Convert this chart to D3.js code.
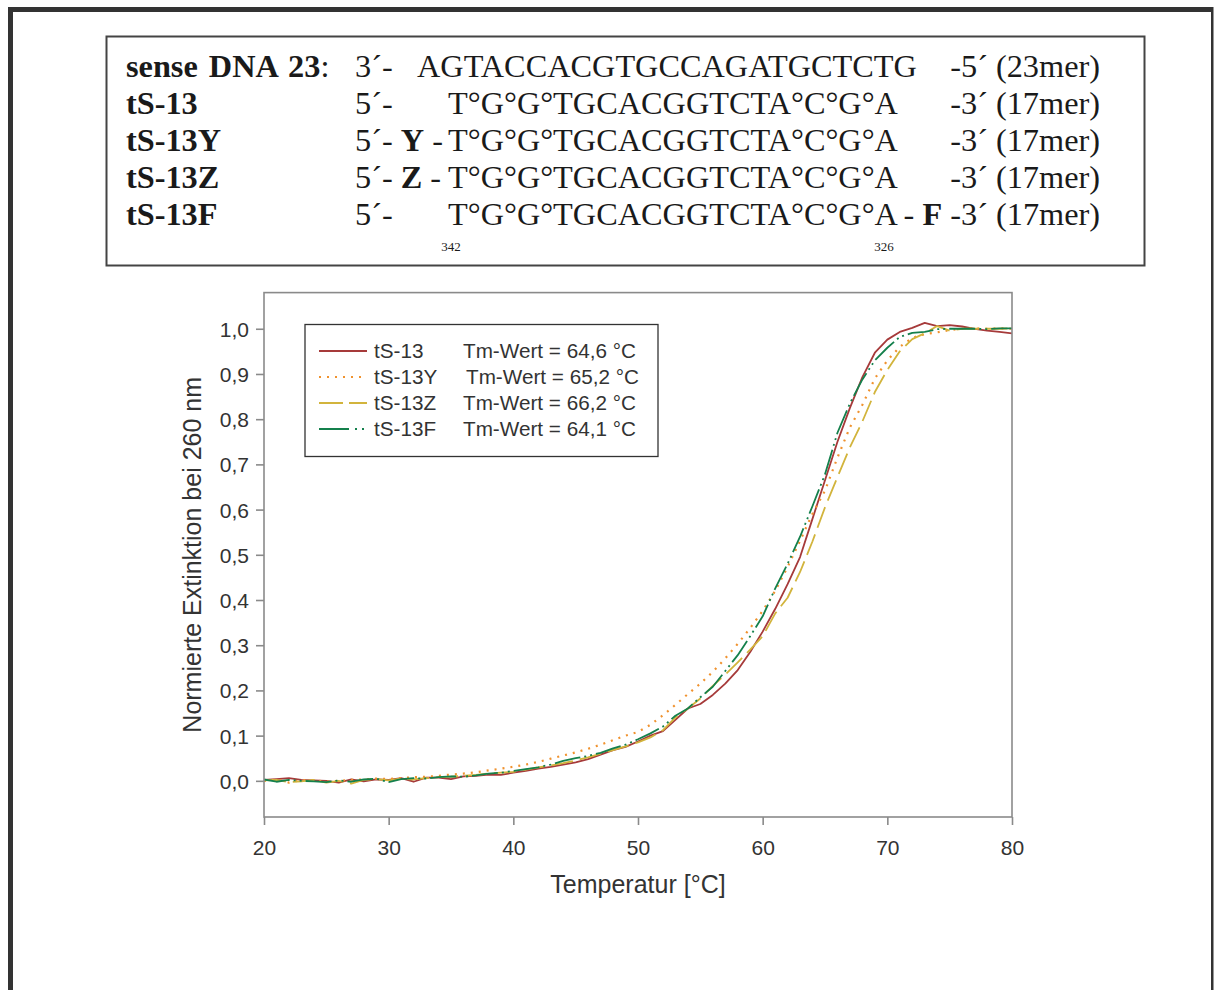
<!DOCTYPE html>
<html>
<head>
<meta charset="utf-8">
<script src="https://cdn.jsdelivr.net/npm/d3@7/dist/d3.min.js"></script>
<style>
  html, body { margin: 0; padding: 0; background: #fff; }
  svg { display: block; }
  .sans { font-family: "Liberation Sans", Arial, Helvetica, sans-serif; fill: #333; }
  .serif { font-family: "Liberation Serif", "Times New Roman", Times, serif; fill: #1a1a1a; }
</style>
</head>
<body>
<svg id="chart" width="1214" height="990"></svg>
<script>
// Temperature grid of the melting curves (°C)
const temperatures = d3.range(20, 81, 1);

// Normalised absorbance at 260 nm, one value per temperature
const tS13 = [0.002, 0.004, 0.006, 0.002, 0.001, 0.000, -0.004, 0.003, -0.001, 0.003,
  0.002, 0.006, -0.002, 0.007, 0.007, 0.004, 0.010, 0.011, 0.014, 0.013,
  0.018, 0.022, 0.027, 0.031, 0.036, 0.041, 0.048, 0.058, 0.068, 0.075,
  0.087, 0.100, 0.110, 0.135, 0.160, 0.170, 0.190, 0.215, 0.245, 0.285,
  0.330, 0.380, 0.435, 0.495, 0.580, 0.665, 0.750, 0.825, 0.893, 0.947,
  0.976, 0.993, 1.002, 1.013, 1.006, 1.008, 1.005, 1.000, 0.996, 0.993, 0.990];

const tS13Y = [0.000, 0.003, -0.004, 0.002, 0.001, -0.002, 0.000, 0.002, 0.003, 0.005,
  0.004, 0.006, 0.008, 0.009, 0.011, 0.014, 0.016, 0.019, 0.023, 0.027,
  0.031, 0.036, 0.042, 0.049, 0.056, 0.063, 0.071, 0.080, 0.090, 0.100,
  0.108, 0.124, 0.145, 0.168, 0.192, 0.215, 0.241, 0.271, 0.303, 0.338,
  0.376, 0.420, 0.473, 0.531, 0.591, 0.642, 0.715, 0.782, 0.832, 0.890,
  0.930, 0.960, 0.980, 0.988, 0.992, 0.997, 1.000, 1.001, 1.000, 1.001, 1.000];

const tS13Z = [0.001, 0.002, -0.003, -0.001, 0.002, -0.004, 0.000, -0.006, 0.002, 0.004,
  0.001, 0.005, 0.003, 0.006, 0.008, 0.009, 0.011, 0.013, 0.016, 0.018,
  0.020, 0.025, 0.030, 0.034, 0.039, 0.045, 0.052, 0.060, 0.068, 0.076,
  0.085, 0.096, 0.112, 0.140, 0.160, 0.182, 0.210, 0.235, 0.262, 0.290,
  0.320, 0.370, 0.405, 0.462, 0.530, 0.605, 0.672, 0.738, 0.795, 0.860,
  0.909, 0.950, 0.977, 0.990, 1.006, 0.996, 1.000, 1.000, 1.000, 1.000, 1.001];

const tS13F = [0.003, -0.002, 0.002, 0.000, -0.001, -0.003, 0.001, -0.002, 0.003, 0.005,
  -0.003, 0.004, 0.006, 0.005, 0.008, 0.010, 0.009, 0.012, 0.016, 0.018,
  0.022, 0.026, 0.030, 0.036, 0.044, 0.050, 0.055, 0.062, 0.072, 0.080,
  0.092, 0.105, 0.120, 0.144, 0.160, 0.185, 0.208, 0.243, 0.278, 0.320,
  0.364, 0.425, 0.480, 0.540, 0.608, 0.678, 0.770, 0.835, 0.888, 0.930,
  0.958, 0.982, 0.991, 0.993, 0.999, 1.000, 1.000, 1.000, 0.999, 1.001, 1.001];

const seriesNames = ["tS-13", "tS-13Y", "tS-13Z", "tS-13F"];
const seriesValues = [tS13, tS13Y, tS13Z, tS13F];
const tmLabels = ["Tm-Wert = 64,6 °C", "Tm-Wert = 65,2 °C", "Tm-Wert = 66,2 °C", "Tm-Wert = 64,1 °C"];
const seriesColors = ["#a63a3a", "#f0922e", "#d2b43c", "#14804c"];
const seriesDash = [null, "2 6", "22 7", "26 4 2 4 2 4"];
const legendDash = [null, "2 6", "24 6", "30 6 2 5 2 5"];

const xTicks = [20, 30, 40, 50, 60, 70, 80];
const yTicks = [0, 0.1, 0.2, 0.3, 0.4, 0.5, 0.6, 0.7, 0.8, 0.9, 1.0];

// Oligonucleotide sequences shown above the plot
const strandNames = ["sense DNA 23", "tS-13", "tS-13Y", "tS-13Z", "tS-13F"];
const strandEnds = ["3´-", "5´-", "5´-", "5´-", "5´-"];
const strandMods = ["", "", "Y", "Z", ""];
const strandSeqs = ["AGTACCACGTGCCAGATGCTCTG", "T°G°G°TGCACGGTCTA°C°G°A", "T°G°G°TGCACGGTCTA°C°G°A",
  "T°G°G°TGCACGGTCTA°C°G°A", "T°G°G°TGCACGGTCTA°C°G°A"];
const strandTailMods = ["", "", "", "", "F"];
const strandTails = ["-5´ (23mer)", "-3´ (17mer)", "-3´ (17mer)", "-3´ (17mer)", "-3´ (17mer)"];
const positionLabels = ["342", "326"];

const svg = d3.select("#chart");

// page frame
svg.append("rect").attr("x", 8).attr("y", 7).attr("width", 1205).attr("height", 5).attr("fill", "#333");
svg.append("rect").attr("x", 8).attr("y", 7).attr("width", 5).attr("height", 983).attr("fill", "#333");
svg.append("rect").attr("x", 1211).attr("y", 7).attr("width", 2.5).attr("height", 983).attr("fill", "#333");

// ---- sequence box ----
const hdr = svg.append("g");
hdr.append("rect").attr("x", 106.5).attr("y", 36.5).attr("width", 1038).attr("height", 229)
  .attr("fill", "none").attr("stroke", "#444").attr("stroke-width", 2);

const hdrFont = 32.3;
const rowY = d3.scalePoint().domain(d3.range(strandNames.length)).range([77, 225]);

strandNames.forEach((name, i) => {
  const y = rowY(i);
  const t = hdr.append("text").attr("class", "serif").attr("x", 126).attr("y", y).attr("font-size", hdrFont)
    .attr("word-spacing", i === 0 ? 3 : 0);
  t.append("tspan").attr("font-weight", "bold").text(name);
  if (i === 0) t.append("tspan").text(":");

  const e = hdr.append("text").attr("class", "serif").attr("x", 355).attr("y", y).attr("font-size", hdrFont)
    .attr("xml:space", "preserve");
  if (strandMods[i]) {
    e.append("tspan").text(strandEnds[i] + " ");
    e.append("tspan").attr("font-weight", "bold").text(strandMods[i]);
    e.append("tspan").text(" -");
  } else {
    e.text(strandEnds[i]);
  }
  hdr.append("text").attr("class", "serif").attr("x", i === 0 ? 417 : 448).attr("y", y)
    .attr("font-size", hdrFont).text(strandSeqs[i]);

  const tl = hdr.append("text").attr("class", "serif").attr("x", 1100).attr("y", y)
    .attr("font-size", hdrFont).attr("text-anchor", "end").attr("xml:space", "preserve");
  if (strandTailMods[i]) {
    tl.append("tspan").text("- ");
    tl.append("tspan").attr("font-weight", "bold").text(strandTailMods[i]);
    tl.append("tspan").text(" " + strandTails[i]);
  } else {
    tl.text(strandTails[i]);
  }
});
hdr.selectAll("text.pos").data(positionLabels).join("text")
  .attr("class", "serif pos").attr("font-size", 13).attr("text-anchor", "middle")
  .attr("x", (d, i) => i === 0 ? 451 : 884).attr("y", 251).text(d => d);

// ---- melting curve plot ----
const x = d3.scaleLinear().domain([20, 80]).range([264, 1012]);
const y = d3.scaleLinear().domain([-0.08, 1.08]).range([817, 292.6]);
const fmt = d => d3.format(".1f")(d).replace(".", ",");

const plot = svg.append("g");
plot.append("clipPath").attr("id", "plotclip").append("rect")
  .attr("x", x(20)).attr("y", y(1.08)).attr("width", x(80) - x(20)).attr("height", y(-0.08) - y(1.08));

const line = d3.line().x((d, i) => x(temperatures[i])).y(d => y(d));
const curves = plot.append("g").attr("clip-path", "url(#plotclip)");
seriesValues.forEach((vals, k) => {
  curves.append("path").datum(vals).attr("d", line)
    .attr("fill", "none").attr("stroke", seriesColors[k]).attr("stroke-width", k === 1 ? 2.2 : 1.8)
    .attr("stroke-linejoin", "round")
    .attr("stroke-dasharray", seriesDash[k]);
});

// frame
plot.append("rect").attr("x", x(20)).attr("y", y(1.08)).attr("width", x(80) - x(20))
  .attr("height", y(-0.08) - y(1.08)).attr("fill", "none").attr("stroke", "#8a8a8a").attr("stroke-width", 1.6);

// axes
const yAxis = d3.axisLeft(y).tickValues(yTicks).tickFormat(fmt).tickSize(8).tickPadding(7);
const xAxis = d3.axisBottom(x).tickValues(xTicks).tickFormat(d3.format("d")).tickSize(8).tickPadding(15);

const gy = plot.append("g").attr("transform", `translate(${x(20)},0)`).call(yAxis);
const gx = plot.append("g").attr("transform", `translate(0,${y(-0.08)})`).call(xAxis);
[gx, gy].forEach(g => {
  g.select(".domain").remove();
  g.selectAll(".tick line").attr("stroke", "#8a8a8a").attr("stroke-width", 1.6);
  g.selectAll(".tick text").attr("class", "sans").attr("font-size", 21).attr("fill", "#333");
});
gy.selectAll(".tick text").attr("dy", "0.36em");

plot.append("text").attr("class", "sans").attr("font-size", 25).attr("text-anchor", "middle")
  .attr("x", (x(20) + x(80)) / 2).attr("y", 893).text("Temperatur [°C]");
plot.append("text").attr("class", "sans").attr("font-size", 25).attr("text-anchor", "middle")
  .attr("transform", `translate(201,${y(0.5)}) rotate(-90)`).text("Normierte Extinktion bei 260 nm");

// legend
const leg = plot.append("g");
leg.append("rect").attr("x", 305).attr("y", 324.5).attr("width", 353).attr("height", 132)
  .attr("fill", "#fff").attr("stroke", "#333").attr("stroke-width", 1.3);
const legY = d3.scalePoint().domain(d3.range(seriesNames.length)).range([351, 429]);
seriesNames.forEach((name, k) => {
  const cy = legY(k);
  leg.append("line").attr("x1", 319).attr("x2", 367).attr("y1", cy).attr("y2", cy)
    .attr("stroke", seriesColors[k]).attr("stroke-width", k === 1 ? 2.2 : 1.8)
    .attr("stroke-dasharray", legendDash[k]);
  leg.append("text").attr("class", "sans").attr("font-size", 20.7).attr("x", 374).attr("y", cy)
    .attr("dy", "0.36em").text(name);
  leg.append("text").attr("class", "sans").attr("font-size", 20.7).attr("x", k === 1 ? 466 : 463).attr("y", cy)
    .attr("dy", "0.36em").text(tmLabels[k]);
});
</script>
</body>
</html>
